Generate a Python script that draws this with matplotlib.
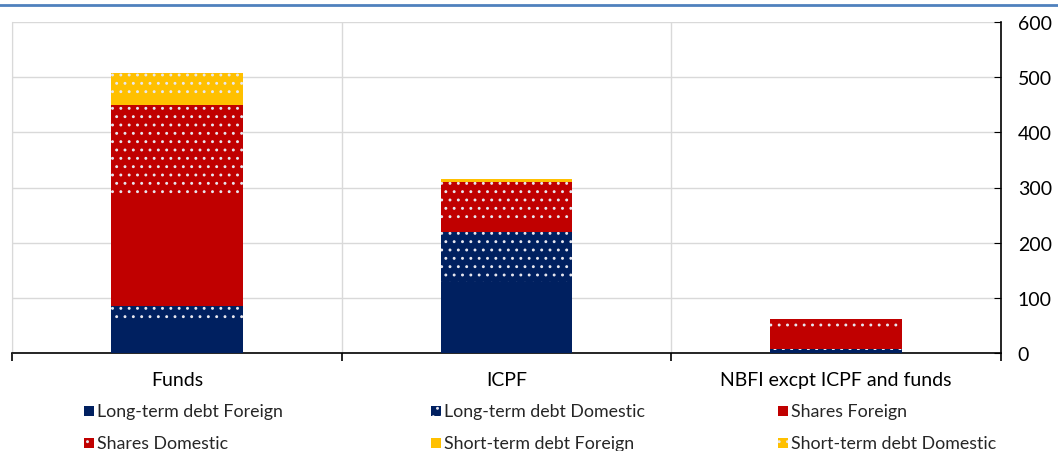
import matplotlib
matplotlib.use("Agg")
import matplotlib.pyplot as plt
from matplotlib.patches import Rectangle
from matplotlib.lines import Line2D
import numpy as np

plt.rcParams['font.family'] = ['Lato', 'DejaVu Sans']
plt.rcParams['hatch.linewidth'] = 0.9

categories = ["Funds", "ICPF", "NBFI excpt ICPF and funds"]
series_names = ["Long-term debt Foreign", "Long-term debt Domestic", "Shares Foreign",
                "Shares Domestic", "Short-term debt Foreign", "Short-term debt Domestic"]
lt_debt_foreign = [54, 129, 6]
lt_debt_domestic = [31, 91, 2]
shares_foreign = [196, 18, 38]
shares_domestic = [169, 72, 16]
st_debt_foreign = [18, 3, 0]
st_debt_domestic = [40, 2, 0]
yticks = [0, 100, 200, 300, 400, 500, 600]

values = [lt_debt_foreign, lt_debt_domestic, shares_foreign,
          shares_domestic, st_debt_foreign, st_debt_domestic]
colors = ["#002060", "#002060", "#C00000", "#C00000", "#FFC000", "#FFC000"]
hatches = [None, "..", None, "..", None, ".."]

W, H = 1058, 452
fig = plt.figure(figsize=(W / 100, H / 100), dpi=100)
ax = fig.add_axes([12 / W, 1 - 354 / H, (1001 - 12) / W, (354 - 23) / H])

x = np.arange(len(categories))
bottom = np.zeros(len(categories))
for name, vals, c, h in zip(series_names, values, colors, hatches):
    ax.bar(x, vals, width=0.4, bottom=bottom, color=c, hatch=h,
           edgecolor="#E8E8F0" if h else c, linewidth=0, zorder=3, label=name)
    bottom += np.array(vals)

ax.set_xlim(-0.5, len(categories) - 0.5)
ax.set_ylim(0, 600)
ax.set_yticks(yticks)
ax.yaxis.tick_right()
ax.tick_params(axis="y", direction="in", length=5, labelsize=14, pad=12, colors="black")

ax.set_xticks(x)
ax.set_xticklabels(categories, fontsize=14)
ax.tick_params(axis="x", length=0, pad=13)
ax.set_xticks(np.arange(len(categories) + 1) - 0.5, minor=True)
ax.tick_params(axis="x", which="minor", length=6, direction="out", width=1.2)

ax.grid(axis="y", color="#D9D9D9", linewidth=1, zorder=0)
ax.grid(axis="x", which="minor", color="#D9D9D9", linewidth=1, zorder=0)
ax.grid(axis="x", which="major", visible=False)

ax.spines["top"].set_visible(False)
ax.spines["left"].set_color("#D9D9D9")
ax.spines["bottom"].set_color("black")
ax.spines["bottom"].set_linewidth(1.2)
ax.spines["right"].set_color("black")
ax.spines["right"].set_linewidth(1.2)

# top blue rule
fig.add_artist(Line2D([0, 1], [1 - 6 / H, 1 - 6 / H], color="#4F81BD", linewidth=2))

# legend (manual 3x2 grid)
col_x = [84, 431, 778]
row_y = [412, 444]
for i, (name, c, h) in enumerate(zip(series_names, colors, hatches)):
    r, col = divmod(i, 3)
    px, py = col_x[col], row_y[r]
    fig.add_artist(Rectangle((px / W, 1 - (py + 5) / H), 10 / W, 10 / H,
                             facecolor=c, edgecolor="#E8E8F0" if h else c,
                             hatch=h, linewidth=0, transform=fig.transFigure))
    fig.text((px + 13) / W, 1 - py / H, name, fontsize=12.8, va="center", ha="left",
             color="#262626")

fig.savefig("out.png", dpi=100)
